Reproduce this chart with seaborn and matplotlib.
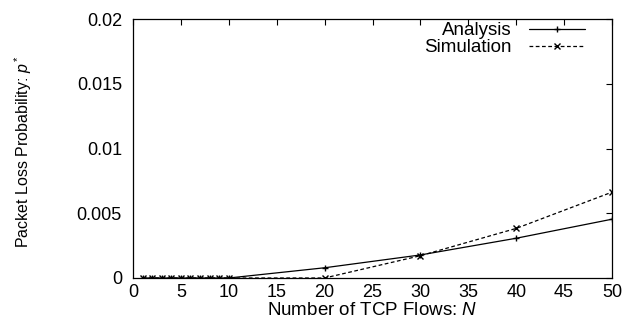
import pandas as pd
import matplotlib
matplotlib.use('Agg')
import matplotlib.pyplot as plt
import seaborn as sns
from matplotlib.ticker import MultipleLocator, FuncFormatter

# Data
flows = [1, 2, 3, 4, 5, 6, 7, 8, 9, 10, 20, 30, 40, 50]
analysis = [0, 0, 0, 0, 0, 0, 0, 0, 0, 0, 0.00079, 0.00178, 0.00307, 0.00454]
simulation = [0, 0, 0, 0, 0, 0, 0, 0, 0, 0, 0.0, 0.00172, 0.00383, 0.00663]

df = pd.concat([
    pd.DataFrame({'N': flows, 'p': analysis, 'Serie': 'Analysis'}),
    pd.DataFrame({'N': flows, 'p': simulation, 'Serie': 'Simulation'}),
])

sns.set_style('white')
plt.rcParams['font.family'] = ['Liberation Sans', 'DejaVu Sans']
plt.rcParams['mathtext.fontset'] = 'custom'
plt.rcParams['mathtext.it'] = 'Liberation Sans:italic'
plt.rcParams['mathtext.rm'] = 'Liberation Sans'
plt.rcParams['text.color'] = 'black'
plt.rcParams['axes.labelcolor'] = 'black'

W, H = 629, 325
fig = plt.figure(figsize=(W / 100, H / 100), dpi=100)
ax = fig.add_axes([133 / W, 1 - 278 / H, (612 - 133) / W, (278 - 19) / H])

sns.lineplot(data=df, x='N', y='p', hue='Serie', style='Serie',
             palette=['black', 'black'], dashes=[(None, None), (3, 2)],
             markers=['+', 'x'], markersize=5, markeredgewidth=1.0,
             markeredgecolor='black', linewidth=0.9, ax=ax)

ax.set_xlim(0, 50)
ax.set_ylim(0, 0.02)
ax.xaxis.set_major_locator(MultipleLocator(5))
ax.yaxis.set_major_locator(MultipleLocator(0.005))
ax.yaxis.set_major_formatter(FuncFormatter(lambda v, pos: '%g' % round(v, 4)))
ax.tick_params(direction='in', top=True, right=True, length=4, width=0.8,
               labelsize=13, colors='black')
ax.tick_params(axis='x', pad=4)
ax.tick_params(axis='y', pad=8)
for s in ax.spines.values():
    s.set_color('black')
    s.set_linewidth(0.9)

ax.set_xlabel('Number of TCP Flows: $N$', fontsize=13.5, labelpad=1, color='black')
ax.set_ylabel('Packet Loss Probability: $p^*$', fontsize=11.5, color='black')
ax.yaxis.set_label_coords((34 - 133) / 479, (278 - 152) / 259)

ax.legend(loc='upper right', frameon=False, markerfirst=False, fontsize=13.5,
          bbox_to_anchor=((585 - 133) / 479, 1 - 3 / 259),
          borderaxespad=0, borderpad=0, handlelength=3.0,
          labelspacing=0.0, handletextpad=0.9)

fig.savefig('out.png', dpi=100)
plt.close(fig)
